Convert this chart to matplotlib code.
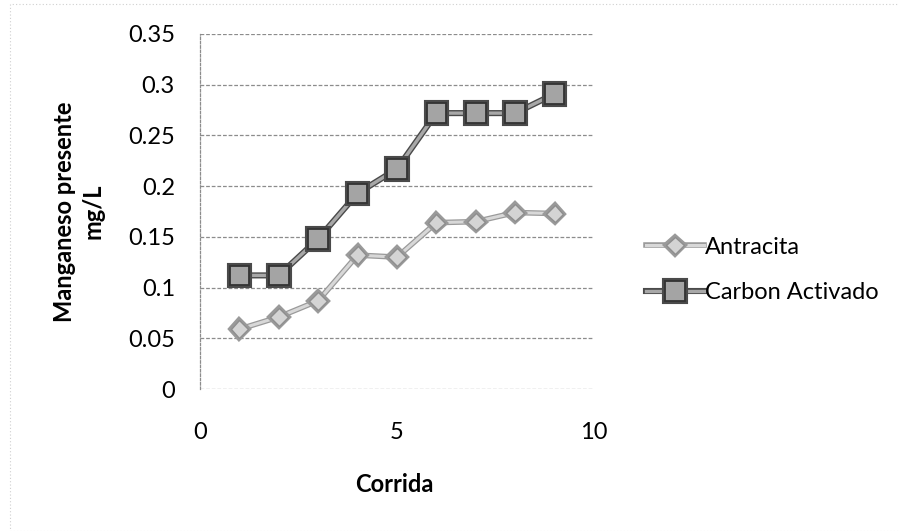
import matplotlib.pyplot as plt
import matplotlib.patheffects as pe
from matplotlib.patches import Rectangle

corrida = [1, 2, 3, 4, 5, 6, 7, 8, 9]
antracita = [0.059, 0.071, 0.087, 0.132, 0.130, 0.164, 0.165, 0.174, 0.173]
carbon_activado = [0.112, 0.112, 0.148, 0.193, 0.217, 0.272, 0.272, 0.272, 0.291]

y_ticks = [0, 0.05, 0.1, 0.15, 0.2, 0.25, 0.3, 0.35]
y_labels = ["0", "0.05", "0.1", "0.15", "0.2", "0.25", "0.3", "0.35"]
x_ticks = [0, 5, 10]

plt.rcParams["font.family"] = ["Lato", "DejaVu Sans"]

fig = plt.figure(figsize=(8.99, 5.31), dpi=100)
ax = fig.add_axes([200 / 899, 1 - 389 / 531, 394 / 899, 355 / 531])

for y in y_ticks:
    ax.axhline(y, color="#8c8c8c", linewidth=0.9, linestyle=(0, (3, 1.5)), zorder=1)

ax.plot(
    corrida, antracita,
    color="#d8d8d8", linewidth=2.2,
    marker="D", markersize=9, markerfacecolor="#d4d4d4",
    markeredgecolor="#8e8e8e", markeredgewidth=1.0,
    label="Antracita", zorder=3,
    path_effects=[pe.Stroke(linewidth=4.0, foreground="#9a9a9a"), pe.Normal()],
)
ax.plot(
    corrida, carbon_activado,
    color="#a8a8a8", linewidth=2.4,
    marker="s", markersize=14, markerfacecolor="#a4a4a4",
    markeredgecolor="#333333", markeredgewidth=1.3,
    label="Carbon Activado", zorder=4,
    path_effects=[pe.Stroke(linewidth=4.4, foreground="#4a4a4a"), pe.Normal()],
)

ax.set_xlim(0, 10)
ax.set_ylim(0, 0.35)
ax.set_xticks(x_ticks)
ax.set_yticks(y_ticks)
ax.set_yticklabels(y_labels)
ax.tick_params(length=0, labelsize=17)
ax.tick_params(axis="y", pad=18)
ax.tick_params(axis="x", pad=24)

for side in ["top", "right", "bottom"]:
    ax.spines[side].set_visible(False)
ax.spines["left"].set_color("#8c8c8c")
ax.spines["left"].set_linestyle((0, (2, 1.5)))
ax.spines["left"].set_linewidth(0.9)

ax.set_xlabel("Corrida", fontsize=17, fontweight="bold")
ax.xaxis.set_label_coords(0.494, -0.268)
ax.xaxis.label.set_va("center")
ax.set_ylabel("Manganeso presente\nmg/L", fontsize=17, fontweight="bold",
              linespacing=1.3)
ax.yaxis.set_label_coords(-0.308, 0.5)
ax.yaxis.label.set_va("center")

leg = ax.legend(
    loc="center left", bbox_to_anchor=(1.132, 0.335),
    frameon=False, fontsize=17, handlelength=2.45,
    handletextpad=0.05, labelspacing=1.05,
    borderpad=0, borderaxespad=0,
)

# faint scan frame
fig.patches.append(Rectangle((10 / 899, 0), 1, 1 - 4 / 531, transform=fig.transFigure,
                             fill=False, edgecolor="#cfcfcf", linewidth=0.8,
                             linestyle=(0, (1, 2))))

fig.savefig("out.png", dpi=100)
